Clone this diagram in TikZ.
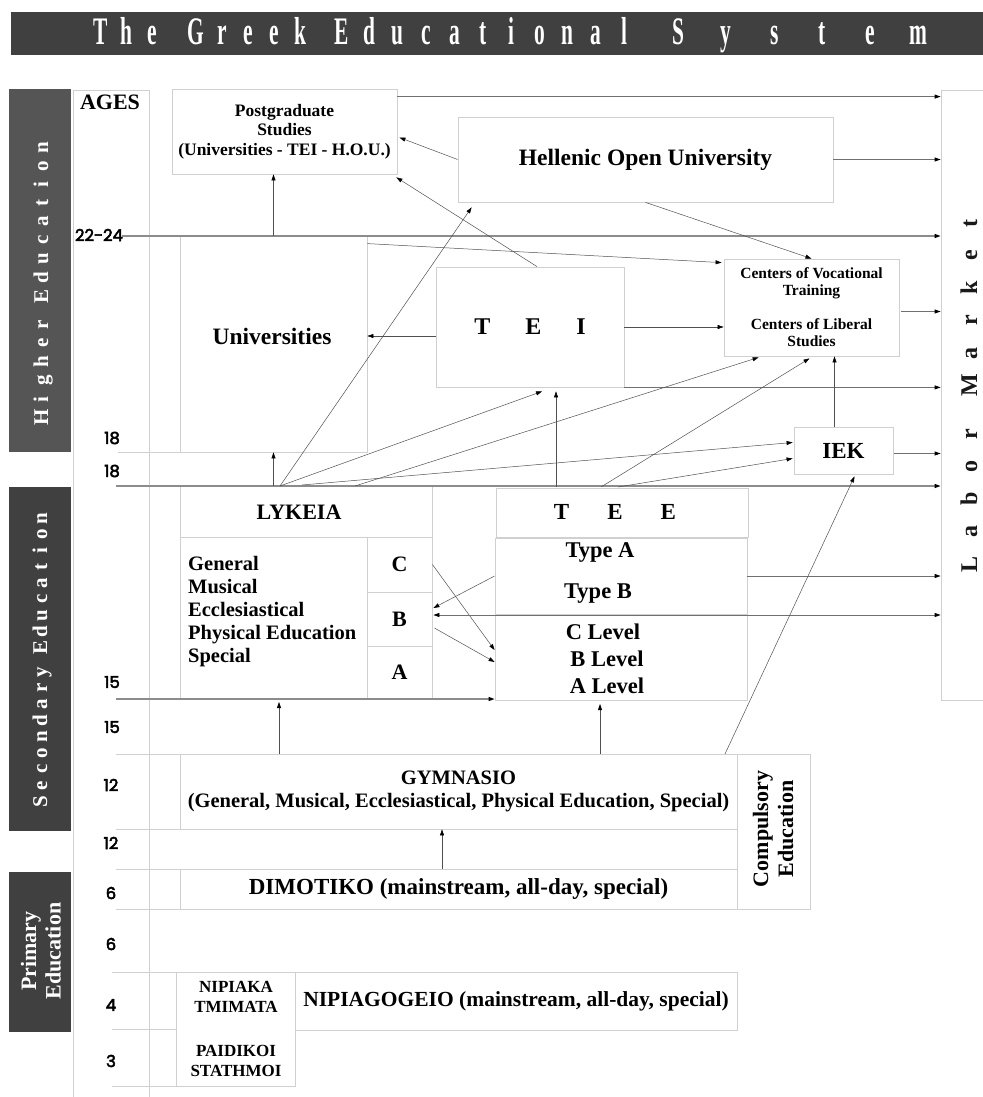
\documentclass[tikz,border=0pt]{standalone}
\usepackage{fontspec}
\setmainfont{Liberation Serif}
\newfontfamily\agefont{Poppins}[FakeBold=3]
\usepackage{graphicx}
\usetikzlibrary{arrows.meta,calc}

\definecolor{bardark}{HTML}{404040}
\definecolor{barmid}{HTML}{555555}
\definecolor{boxline}{HTML}{D0D0D0}
\definecolor{agegray}{HTML}{8C8C8C}
\definecolor{conngray}{HTML}{505050}

\makeatletter
\newcommand\spaced[2]{\@tfor\ltr:=#2\do{\makebox[#1]{\ltr}}}
\newcommand\spacedcond[2]{\@tfor\ltr:=#2\do{\makebox[#1]{\scalebox{0.55}[1]{\ltr}}}}
\makeatother
\newcommand\fsz[2]{\fontsize{#1}{#2}\selectfont\bfseries}
\newcommand\agesz{\agefont\fontsize{16.5}{16.5}\selectfont}

\tikzset{
  >={Triangle[length=6pt,width=4pt,color=black]},
  box/.style={draw=boxline, line width=0.8pt, inner sep=0pt, align=center},
  thinline/.style={draw=boxline, line width=0.8pt},
  conn/.style={draw=conngray, line width=0.5pt, ->},
  hconn/.style={draw=agegray!80!black, line width=0.8pt, ->},
  ageconn/.style={draw=agegray, line width=1.2pt, ->},
  age/.style={font=\agesz, inner sep=0pt},
  titleword/.style={anchor=base west, text=white, font=\fsz{39}{39}, inner sep=0pt}
}

\begin{document}
\begin{tikzpicture}[x=1pt,y=-1pt]
\useasboundingbox (0,0) rectangle (982,1097);

\fill[bardark] (11,12) rectangle (990,55);
\node[titleword] (ttl1) at (88,45) {\spacedcond{25.5pt}{The}};
\node[titleword] (ttl2) at (183,45) {\spacedcond{26pt}{Greek}};
\node[titleword] (ttl3) at (327,45) {\spacedcond{28.3pt}{Educational}};
\node[titleword] (ttl4) at (654,45) {\spacedcond{48pt}{System}};

\fill[barmid] (9,89) rectangle (71,452);
\fill[bardark] (9,487) rectangle (71,831);
\fill[bardark] (9,872) rectangle (71,1032);
\node[rotate=90, anchor=base, text=white, font=\fsz{21}{21}, inner sep=0pt] (highertxt) at (48,282.5)
  {\spaced{18.6pt}{Higher}\hspace{10pt}\spaced{18.6pt}{Education}};
\node[rotate=90, anchor=base, text=white, font=\fsz{21}{21}, inner sep=0pt] (secondtxt) at (47,660)
  {\spaced{16.2pt}{Secondary}\hspace{8pt}\spaced{16.2pt}{Education}};
\node[rotate=90, align=center, text=white, font=\fsz{22}{24.5}, inner sep=0pt] (primtxt) at (41,951)
  {Primary\\Education};

\draw[thinline] (73,1097) -- (73,90) -- (149,90) -- (149,1097);
\node[font=\fsz{22}{22}, inner sep=0pt] (ages) at (110,102) {AGES};
\node[age] (t2224) at (99,235) {22-24};
\node[age] (t18a) at (112,438) {18};
\node[age] (t18b) at (112,471) {18};
\node[age] (t15a) at (112,682) {15};
\node[age] (t15b) at (112,727) {15};
\node[age] (t12a) at (111,785) {12};
\node[age] (t12b) at (111,843) {12};
\node[age] (t6a) at (111,893) {6};
\node[age] (t6b) at (111,944) {6};
\node[age] (t4) at (111,1005) {4};
\node[age] (t3) at (111,1061) {3};

\node[box, minimum width=225, minimum height=85, font=\fsz{17.5}{19.5}] (postgrad) at (284.5,131.5)
  {Postgraduate\\Studies\\(Universities - TEI - H.O.U.)};
\node[box, minimum width=375, minimum height=85, font=\fsz{23.5}{26}] (hou) at (645.5,159.5) {Hellenic Open University};
\node[box, minimum width=187, minimum height=216] (univ) at (273.5,344) {};
\node[font=\fsz{23.5}{26}] (univtxt) at (272,336) {Universities};
\node[box, minimum width=188, minimum height=120, font=\fsz{24}{26}] (tei) at (530,327) {T\hspace{35pt}E\hspace{35pt}I};
\node[box, minimum width=175, minimum height=97, font=\fsz{15.5}{17}] (centers) at (811.5,307.5)
  {Centers of Vocational\\Training\\[17pt]Centers of Liberal\\Studies};
\node[box, minimum width=99, minimum height=47, font=\fsz{23}{25}] (iek) at (843.5,450.5) {IEK};
\node[box, minimum width=60, minimum height=610] (labor) at (971,395) {};
\node[rotate=90, anchor=base, font=\fsz{24}{24}, text=black!90, inner sep=0pt] (labortxt) at (977,393.5)
  {\spaced{32.5pt}{Labor}\hspace{16pt}\spaced{32.5pt}{Market}};

\node[box, minimum width=252, minimum height=51] (lykhead) at (306,511.5) {};
\node[font=\fsz{22}{24}] (lyktxt) at (299,512) {LYKEIA};
\node[box, minimum width=187, minimum height=162] (lykbody) at (273.5,618) {};
\node[anchor=west, align=left, font=\fsz{20.5}{23}, inner sep=0pt] (lyklist) at (188,612)
  {General\\Musical\\Ecclesiastical\\Physical Education\\Special};
\node[box, minimum width=65, minimum height=55, font=\fsz{22}{24}] (lykC) at (399.5,564.5) {C};
\node[box, minimum width=65, minimum height=54, font=\fsz{22}{24}] (lykB) at (399.5,619) {B};
\node[box, minimum width=65, minimum height=53, font=\fsz{22}{24}] (lykA) at (399.5,672.5) {A};

\node[box, minimum width=252, minimum height=49] (teehead) at (622,512.5) {};
\node[font=\fsz{23}{25}] (teetxt) at (615,512) {T\hspace{38pt}E\hspace{38pt}E};
\node[box, minimum width=252, minimum height=76] (teetype) at (621,576) {};
\node[font=\fsz{22.5}{25}] (typea) at (600,552) {Type A};
\node[font=\fsz{22.5}{25}] (typeb) at (598,594) {Type B};
\node[box, minimum width=252, minimum height=86] (teelevel) at (621,657) {};
\node[font=\fsz{22.5}{25}] (clevel) at (603,632) {C Level};
\node[font=\fsz{22.5}{25}] (blevel) at (607,659) {B Level};
\node[font=\fsz{22.5}{25}] (alevel) at (607,686) {A Level};

\node[box, minimum width=557, minimum height=75, font=\fsz{20.5}{23}] (gym) at (458.5,791.5)
  {GYMNASIO\\(General, Musical, Ecclesiastical, Physical Education, Special)};
\node[box, minimum width=557, minimum height=40, font=\fsz{23}{25}] (dim) at (458.5,889)
  {DIMOTIKO (mainstream, all-day, special)};
\node[box, minimum width=73, minimum height=155] (comp) at (773.5,831.5) {};
\node[rotate=90, align=center, font=\fsz{22}{25}] (comptxt) at (773,829) {Compulsory\\Education};
\node[box, minimum width=119, minimum height=114] (nipiaka) at (235.5,1029) {};
\node[align=center, font=\fsz{17}{19.5}] (nipiakatxt) at (236,997) {NIPIAKA\\TMIMATA};
\node[align=center, font=\fsz{17}{19.5}] (paidikoitxt) at (236,1061) {PAIDIKOI\\STATHMOI};
\node[box, minimum width=442, minimum height=58, font=\fsz{21.5}{24}] (nipiag) at (516,1001)
  {NIPIAGOGEIO (mainstream, all-day, special)};

\coordinate (a2224) at (122,236);
\coordinate (l18a) at (118,452);
\coordinate (a18b) at (116,486);
\coordinate (a15a) at (116,699);
\coordinate (l15b) at (116,754);
\coordinate (l12b) at (116,829);
\coordinate (l12c) at (116,869);
\coordinate (l6b) at (116,909);
\coordinate (l4) at (112,972);
\coordinate (l3) at (112,1029);
\coordinate (l0) at (112,1086);
\draw[thinline] (l18a) -- (l18a -| univ.west);
\draw[thinline] (l15b) -- (l15b -| gym.west);
\draw[thinline] (l12b) -- (l12b -| gym.west);
\draw[thinline] (l12c) -- (l12c -| dim.west);
\draw[thinline] (l6b) -- (l6b -| dim.west);
\draw[thinline] (l4) -- (l4 -| nipiaka.west);
\draw[thinline] (l3) -- (l3 -| nipiaka.west);
\draw[thinline] (l0) -- (l0 -| nipiaka.west);
\draw[ageconn] (a2224) -- (a2224 -| labor.west);
\draw[ageconn] (a18b) -- (a18b -| labor.west);
\draw[ageconn] (a15a) -- (a15a -| teelevel.west);

\coordinate (pgout) at ($(postgrad.north east)+(0,8)$);
\coordinate (teiout) at ($(tei.west)+(0,9)$);
\coordinate (cvout) at ($(centers.east)+(2,4)$);
\coordinate (iekup) at ($(iek.north)+(-9,0)$);
\coordinate (iekout) at ($(iek.east)+(1,3)$);
\coordinate (fanA) at (280,486);
\coordinate (fanB) at (355,486);
\coordinate (fanC) at (302,485);
\coordinate (teeA) at (556,487);
\coordinate (teeB) at (601,487);
\coordinate (teeC) at (618,487);
\coordinate (bb) at ($(lykB.east)+(1,-4)$);
\coordinate (lykin) at (279,702);
\coordinate (teein) at (600,704);
\coordinate (gymout) at (725,754);
\coordinate (dimup) at (442,869);

\draw[hconn] (pgout) -- (pgout -| labor.west);
\draw[conn] (hou.west) -- ($(postgrad.east)+(2,6)$);
\draw[hconn] (hou.east) -- (hou.east -| labor.west);
\draw[conn] (hou.south) -- (centers.north);
\draw[conn] (univ.north) -- (univ.north |- postgrad.south);
\draw[conn] ($(univ.north east)+(0,8)$) -- ($(centers.north west)+(-2,4)$);
\draw[conn] (teiout) -- (teiout -| univ.east);
\draw[conn] ($(tei.north)+(7,0)$) -- ($(postgrad.south east)+(-1,3)$);
\draw[conn] (tei.east) -- (tei.east -| centers.west);
\draw[hconn] (tei.south east) -- (tei.south east -| labor.west);
\draw[hconn] (cvout) -- (cvout -| labor.west);
\draw[conn] (iekup) -- (iekup |- centers.south);
\draw[hconn] (iekout) -- (iekout -| labor.west);
\draw[conn] (univ.south |- fanA) -- (univ.south);
\draw[conn] (fanA) -- ($(hou.south west)+(14,5)$);
\draw[conn] (fanA) -- ($(tei.south)+(12,4)$);
\draw[conn] (fanB) -- ($(centers.south west)+(35,1)$);
\draw[conn] (fanC) -- ($(iek.west)+(-1,-8)$);
\draw[conn] (teeA) -- ($(teeA |- tei.south)+(0,4)$);
\draw[conn] (teeB) -- ($(centers.south)+(-2,2)$);
\draw[conn] (teeC) -- ($(iek.west)+(-1,8)$);
\draw[conn] (lykC.east) -- ($(teelevel.west)+(0,-7)$);
\draw[conn] ($(lykB.east)+(2,9)$) -- ($(teelevel.west)+(0,5)$);
\draw[conn] (teetype.west) -- ($(lykB.east)+(1,-11)$);
\draw[hconn, <->] (bb) -- (bb -| labor.west);
\draw[hconn] (teetype.east) -- (teetype.east -| labor.west);
\draw[conn] (lykin |- gym.north) -- (lykin);
\draw[conn] (teein |- gym.north) -- (teein);
\draw[conn] (gymout) -- ($(iek.south)+(11,2)$);
\draw[conn] (dimup) -- (dimup |- gym.south);
\end{tikzpicture}
\end{document}
